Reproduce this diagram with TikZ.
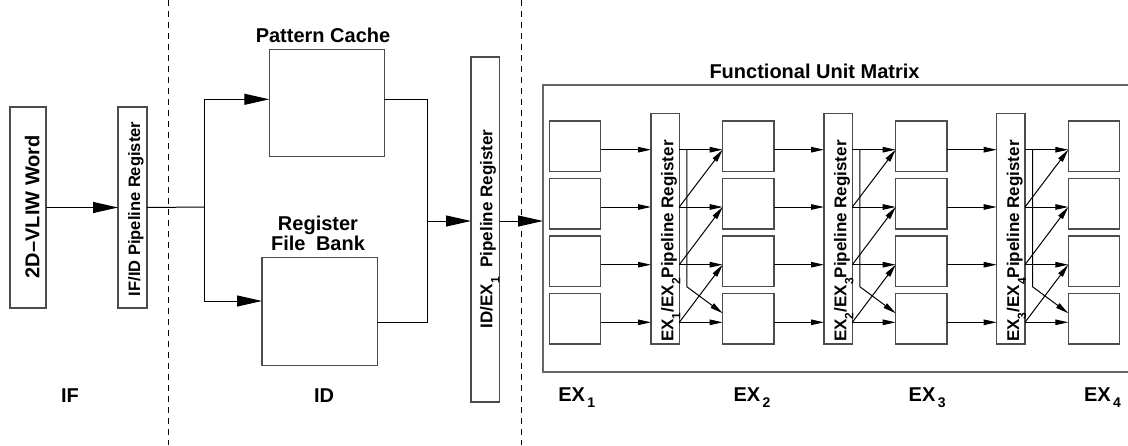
\documentclass[tikz,border=0pt]{standalone}
\usepackage{fontspec}
\setmainfont{Liberation Sans}
\usetikzlibrary{arrows.meta,calc}

% lowered index inside the rotated register names
\newcommand\regsub[1]{\raisebox{-7pt}{\fontsize{12}{12}\selectfont #1}}
% lowered index of the stage names
\newcommand\labsub[1]{\hspace{2.5pt}\raisebox{-6pt}{\fontsize{14}{14}\selectfont #1}}

\begin{document}
\begin{tikzpicture}[x=1pt,y=-1pt,
  box/.style={draw=black!70, line width=1.1pt, inner sep=0pt, outer sep=0pt, anchor=north west},
  conn/.style={line width=1pt, black},
  bigarr/.style={conn, -{Triangle[length=25pt,width=11pt]}},
  smallarr/.style={conn, -{Triangle[length=13pt,width=5.5pt]}},
  lbl/.style={font=\fontsize{20}{20.7}\selectfont\bfseries, inner sep=0pt, outer sep=0pt},
  reglbl/.style={font=\fontsize{17}{19}\selectfont\bfseries, inner sep=0pt, outer sep=0pt, rotate=90},
  stageline/.style={line width=0.8pt, dash pattern=on 6pt off 5pt}
]
\useasboundingbox (0,0) rectangle (1128,445);

% stage separators
\coordinate (s1t) at (168,0);   \coordinate (s1b) at (168,445);
\coordinate (s2t) at (521.7,0); \coordinate (s2b) at (521.7,445);
\draw[stageline] (s1t) -- (s1b);
\draw[stageline] (s2t) -- (s2b);

% ---------------- IF stage ----------------
\node[box, minimum width=36pt, minimum height=201pt] (vliw) at (10,107) {};
\node[lbl, rotate=90, anchor=base] at (39.3,206.7) {2D\textendash VLIW Word};
\node[box, minimum width=29pt, minimum height=201pt] (ifid) at (118,107) {};
\node[reglbl, font=\fontsize{16.5}{18}\selectfont\bfseries, anchor=base] at (140,209) {IF/ID Pipeline Register};
\draw[bigarr] (vliw.east) -- (ifid.west);

% ---------------- ID stage ----------------
\node[box, minimum width=115pt, minimum height=107.4pt] (pc) at (269.3,49.3) {};
\node[lbl, anchor=base] at (323,42.7) {Pattern Cache};
\node[box, minimum width=115.3pt, minimum height=108pt] (rfb) at (262,257.7) {};
\node[lbl, anchor=base, align=center] at (318,250.7) {Register\\File\hspace{10.5pt}Bank};

\coordinate (fork) at (204,207);
\coordinate (pcio) at ($(pc.west)+(0,-3.7)$);
\coordinate (rfbin) at ($(rfb.west)+(0,-10.7)$);
\coordinate (rfbout) at ($(rfb.east)+(0,10.6)$);
\coordinate (join) at (427.7,221);

\draw[conn] (ifid.east) -- (fork);
\draw[bigarr] (fork) |- (pcio);
\draw[bigarr] (fork) |- (rfbin);
\draw[conn] (pc.east |- pcio) -| (join |- rfbout) -- (rfbout);

\node[box, minimum width=28.5pt, minimum height=345pt] (idex) at (471,57) {};
\node[reglbl, anchor=base west] at (492.3,328.3) {ID/EX\regsub{1}\hspace{5pt} Pipeline Register};
\draw[bigarr] (join) -- (idex.west |- join);

% ---------------- EX stages ----------------
\node[draw=black!60, line width=1.5pt, inner sep=0pt, outer sep=0pt, anchor=north west,
      minimum width=600pt, minimum height=287pt] (fu) at (543,85) {};
\node[lbl, anchor=base] at (814.5,78.3) {Functional Unit Matrix};
\draw[bigarr] (idex.east |- join) -- (fu.west |- join);

% row heights of the unit connections
\coordinate (row1) at (0,149.7);
\coordinate (row2) at (0,207);
\coordinate (row3) at (0,264.7);
\coordinate (row4) at (0,322.3);

% functional units
\foreach \c/\x in {1/549.3,2/722.7,3/895.7,4/1068.3}
  \foreach \r/\y in {1/121,2/178.3,3/236,4/293.3}
    \node[box, minimum width=51.3pt, minimum height=50.7pt] (u\c\r) at (\x,\y) {};

% pipeline registers between the unit columns
\foreach \k/\x [evaluate=\k as \n using int(\k+1)] in {1/651,2/824,3/996.7} {
  \node[box, minimum width=28.3pt, minimum height=230.7pt] (p\k) at (\x,113.3) {};
  \node[reglbl, anchor=base west] at ($(p\k.south west)+(22.3,-2.3)$)
    {EX\regsub{\k}/EX\regsub{\n}Pipeline Register};
}

\foreach \k [evaluate=\k as \n using int(\k+1)] in {1,2,3} {
  % units into the register
  \foreach \r in {1,...,4}
    \draw[smallarr] (u\k\r.east |- row\r) -- (p\k.west |- row\r);
  % register straight to the next units
  \foreach \r in {1,...,4}
    \draw[smallarr] (p\k.east |- row\r) -- (u\n\r.west |- row\r);
  % register to the unit one row up
  \foreach \r [evaluate=\r as \m using int(\r-1)] in {2,3,4}
    \draw[smallarr] (p\k.east |- row\r) -- (u\n\m.west |- row\m);
  % first row wraps down to the last unit
  \draw[smallarr] ($(p\k.east |- row1)+(7.5,0)$) -- ++(0,137) -- ($(u\n4.west)+(0,-5.4)$);
}

% ---------------- stage names ----------------
\node[lbl, anchor=base] at (70,402) {IF};
\node[lbl, anchor=base] at (324,402) {ID};
\node[lbl, anchor=base west] at (558.3,401.5) {EX\labsub{1}};
\node[lbl, anchor=base west] at (733.5,401.5) {EX\labsub{2}};
\node[lbl, anchor=base west] at (908.7,401.5) {EX\labsub{3}};
\node[lbl, anchor=base west] at (1084,401.5) {EX\labsub{4}};
\end{tikzpicture}
\end{document}
